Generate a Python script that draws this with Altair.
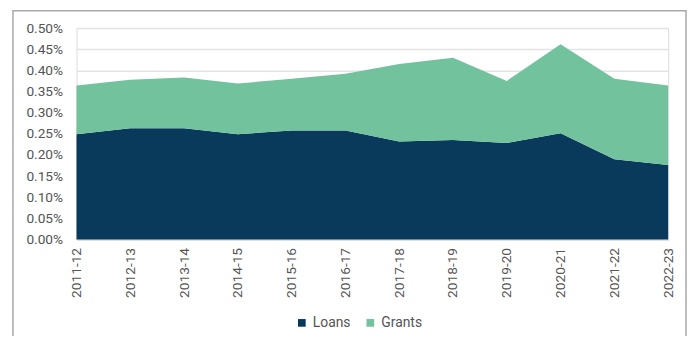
import altair as alt
import pandas as pd

years = ["2011-12", "2012-13", "2013-14", "2014-15", "2015-16", "2016-17",
         "2017-18", "2018-19", "2019-20", "2020-21", "2021-22", "2022-23"]
loans = [0.249, 0.263, 0.263, 0.249, 0.258, 0.258, 0.232, 0.235, 0.228, 0.251, 0.190, 0.176]
totals = [0.364, 0.378, 0.383, 0.369, 0.380, 0.392, 0.415, 0.430, 0.375, 0.462, 0.380, 0.364]
grants = [round(t - l, 4) for t, l in zip(totals, loans)]

series = ["Loans", "Grants"]
colors = ["#0a3a5b", "#72c29e"]

rows = []
for i, y in enumerate(years):
    rows.append({"year": y, "series": "Loans", "value": loans[i] / 100, "ord": 0})
    rows.append({"year": y, "series": "Grants", "value": grants[i] / 100, "ord": 1})
df = pd.DataFrame(rows)

area = alt.Chart(df).mark_area(opacity=1).encode(
    x=alt.X("year:O", sort=years, title=None,
            scale=alt.Scale(type="point", padding=0),
            axis=alt.Axis(labelAngle=-90, labelFontSize=13.8, labelColor="#555555",
                          labelFont="Roboto", ticks=False, domainColor="#d9d9d9",
                          labelPadding=8, grid=False)),
    y=alt.Y("value:Q", stack="zero", title=None,
            scale=alt.Scale(domain=[0, 0.005]),
            axis=alt.Axis(format=".2%", values=[i * 0.0005 for i in range(11)],
                          labelFontSize=13.8, labelColor="#555555", labelFont="Roboto",
                          ticks=False, domain=False, labelPadding=14,
                          gridColor="#e3e3e3", gridWidth=1.5)),
    color=alt.Color("series:N", scale=alt.Scale(domain=series, range=colors),
                    legend=alt.Legend(orient="none", direction="horizontal", title=None,
                                      legendX=220, legendY=290, symbolType="square",
                                      symbolSize=60, labelFontSize=14, labelFont="Roboto",
                                      labelColor="#555555", columnPadding=12,
                                      labelOffset=4, symbolStrokeWidth=0)),
    order=alt.Order("ord:Q"),
)

frame = alt.Chart(pd.DataFrame({"a": [0]})).mark_rect(
    fill=None, stroke="#a8a8a8", strokeWidth=1.5, clip=False
).encode(
    x=alt.value(-64), x2=alt.value(614), y=alt.value(-17.5), y2=alt.value(400)
)

chart = alt.layer(frame, area).properties(
    width=596, height=213,
    padding={"left": 69, "top": 19, "right": 20, "bottom": 96},
    autosize=alt.AutoSizeParams(type="none"),
).configure_view(stroke=None).configure(background="white")

chart.save("out.html", embed_options={"renderer": "svg", "actions": False})
